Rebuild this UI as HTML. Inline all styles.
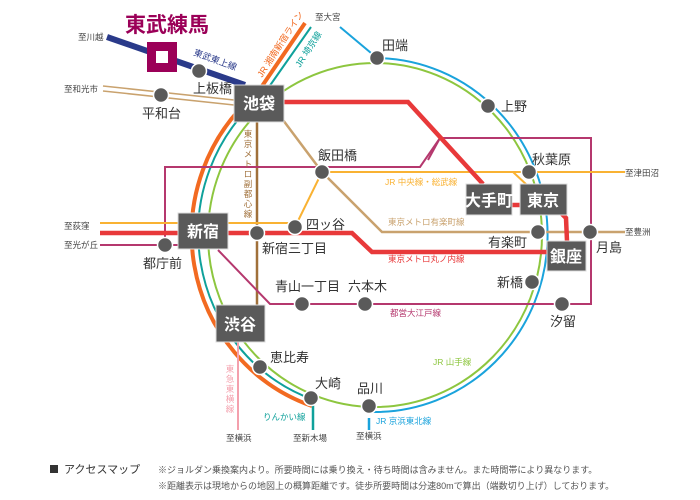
<!DOCTYPE html>
<html><head><meta charset="utf-8"><style>
html,body{margin:0;padding:0;background:#fff;}
svg{display:block;font-family:"Liberation Sans","Noto Sans CJK JP",sans-serif;}
.st{font-size:13px;fill:#333;}
.sm{font-size:8.5px;fill:#444;}
.bx{fill:#5a5a5a;stroke:#ddd;stroke-width:1;}
.bt{font-size:16px;fill:#fff;font-weight:bold;}
</style></head><body>
<svg width="700" height="500" viewBox="0 0 700 500">
<ellipse cx="375" cy="235" rx="167" ry="172" fill="none" stroke="#8dc63f" stroke-width="2"/>
<path d="M340 27 L377 58 A173 177 0 1 1 372 412" fill="none" stroke="#1aa3dc" stroke-width="2"/>
<line x1="369" y1="418" x2="369" y2="430" stroke="#1aa3dc" stroke-width="2.5"/>
<path d="M305 23 L258 92 A178 182 0 0 0 312 406" fill="none" stroke="#f26a21" stroke-width="4"/>
<path d="M311 27 L264 94 A173 177 0 0 0 314 400" fill="none" stroke="#0fa19b" stroke-width="2"/>
<line x1="313" y1="405" x2="313" y2="430" stroke="#0fa19b" stroke-width="2.5"/>
<line x1="238" y1="340" x2="238" y2="430" stroke="#f4a0ad" stroke-width="2"/>
<line x1="107" y1="37" x2="245" y2="85" stroke="#2a3a8a" stroke-width="6"/>
<g fill="none" stroke="#c9a26e" stroke-width="1.5">
<polyline points="103,86 234,100"/>
<polyline points="103,91 234,105"/>
</g>
<polyline points="283,120 322,172 382,232 625,232" fill="none" stroke="#c9a26e" stroke-width="2.5"/>
<line x1="257" y1="120" x2="257" y2="306" stroke="#a0703a" stroke-width="2.5"/>
<g fill="none" stroke="#b5386e" stroke-width="2">
<polyline points="100,245 180,245"/>
<polyline points="165,245 165,167 420,167 440,138 591,138 591,304 270,304 218,250"/>
<line x1="440" y1="138" x2="428" y2="160"/>
</g>
<g fill="none" stroke="#f9b233" stroke-width="2">
<polyline points="100,223 295,223"/>
<polyline points="295,227 322,172 625,172"/>
<line x1="513" y1="172" x2="528" y2="186"/>
</g>
<g fill="none" stroke="#e8393a" stroke-width="4.5">
<polyline points="283,102 408,102 483,184"/>
<line x1="512" y1="205" x2="520" y2="205"/>
<polyline points="560,212 566,218 567,241"/>
<polyline points="100,233 352,233 372,252 548,252"/>
</g>
<g fill="#5a5a5a" stroke="#fff" stroke-width="1.5">
<circle cx="199" cy="71" r="7.5"/>
<circle cx="161" cy="95" r="7.5"/>
<circle cx="377" cy="58" r="7.5"/>
<circle cx="488" cy="106" r="7.5"/>
<circle cx="529" cy="172" r="7.5"/>
<circle cx="538" cy="232" r="7.5"/>
<circle cx="590" cy="232" r="7.5"/>
<circle cx="532" cy="282" r="7.5"/>
<circle cx="562" cy="304" r="7.5"/>
<circle cx="369" cy="406" r="7.5"/>
<circle cx="311" cy="398" r="7.5"/>
<circle cx="260" cy="367" r="7.5"/>
<circle cx="165" cy="245" r="7.5"/>
<circle cx="257" cy="233" r="7.5"/>
<circle cx="295" cy="227" r="7.5"/>
<circle cx="302" cy="304" r="7.5"/>
<circle cx="365" cy="304" r="7.5"/>
<circle cx="322" cy="172" r="7.5"/>
</g>
<rect x="147" y="42" width="30" height="30" fill="#9b0058"/>
<rect x="156" y="51" width="12" height="12" fill="#fff"/>
<text x="125" y="32" font-size="21" font-weight="bold" fill="#9b0058">東武練馬</text>
<rect class="bx" x="234" y="85" width="50" height="37"/><text class="bt" x="259" y="109" text-anchor="middle">池袋</text>
<rect class="bx" x="178" y="213" width="50" height="36"/><text class="bt" x="203" y="237" text-anchor="middle">新宿</text>
<rect class="bx" x="216" y="305" width="49" height="37"/><text class="bt" x="240" y="330" text-anchor="middle">渋谷</text>
<rect class="bx" x="466" y="184" width="46" height="31"/><text class="bt" x="489" y="206" text-anchor="middle">大手町</text>
<rect class="bx" x="520" y="184" width="47" height="31"/><text class="bt" x="543" y="206" text-anchor="middle">東京</text>
<rect class="bx" x="547" y="241" width="39" height="30"/><text class="bt" x="566" y="262" text-anchor="middle">銀座</text>
<text class="st" x="193" y="93">上板橋</text>
<text class="st" x="142" y="118">平和台</text>
<text class="st" x="382" y="50">田端</text>
<text class="st" x="501" y="111">上野</text>
<text class="st" x="532" y="164">秋葉原</text>
<text class="st" x="488" y="247">有楽町</text>
<text class="st" x="596" y="252">月島</text>
<text class="st" x="497" y="287">新橋</text>
<text class="st" x="550" y="326">汐留</text>
<text class="st" x="357" y="393">品川</text>
<text class="st" x="315" y="388">大崎</text>
<text class="st" x="270" y="362">恵比寿</text>
<text class="st" x="143" y="268">都庁前</text>
<text class="st" x="262" y="253">新宿三丁目</text>
<text class="st" x="306" y="229">四ッ谷</text>
<text class="st" x="275" y="291">青山一丁目</text>
<text class="st" x="348" y="291">六本木</text>
<text class="st" x="318" y="160">飯田橋</text>
<text class="sm" x="78" y="40">至川越</text>
<text class="sm" x="64" y="92">至和光市</text>
<text class="sm" x="315" y="20">至大宮</text>
<text class="sm" x="625" y="176">至津田沼</text>
<text class="sm" x="625" y="235">至豊洲</text>
<text class="sm" x="64" y="229">至荻窪</text>
<text class="sm" x="64" y="248">至光が丘</text>
<text class="sm" x="226" y="441">至横浜</text>
<text class="sm" x="293" y="441">至新木場</text>
<text class="sm" x="356" y="439">至横浜</text>
<text font-size="9" fill="#2a3a8a" transform="translate(193,55) rotate(20)">東武東上線</text>
<text font-size="9" fill="#f26a21" transform="translate(262,78) rotate(-57)">JR 湘南新宿ライン</text>
<text font-size="9" fill="#0fa19b" transform="translate(300,68) rotate(-57)">JR 埼京線</text>
<g font-size="8.5" fill="#a0703a" text-anchor="middle">
<text x="248" y="137">東</text><text x="248" y="147">京</text><text x="248" y="157">メ</text><text x="248" y="167">ト</text><text x="248" y="177">ロ</text><text x="248" y="187">副</text><text x="248" y="197">都</text><text x="248" y="207">心</text><text x="248" y="217">線</text>
</g>
<g font-size="8.5" fill="#f4a0ad" text-anchor="middle">
<text x="230" y="372">東</text><text x="230" y="382">急</text><text x="230" y="392">東</text><text x="230" y="402">横</text><text x="230" y="412">線</text>
</g>
<text font-size="8.5" fill="#f9b233" x="385" y="185">JR 中央線・総武線</text>
<text font-size="8.5" fill="#c9a26e" x="388" y="225">東京メトロ有楽町線</text>
<text font-size="8.5" fill="#e8393a" x="388" y="262">東京メトロ丸ノ内線</text>
<text font-size="8.5" fill="#b5386e" x="390" y="316">都営大江戸線</text>
<text font-size="8.5" fill="#8dc63f" x="433" y="365">JR 山手線</text>
<text font-size="8.5" fill="#1aa3dc" x="376" y="424">JR 京浜東北線</text>
<text font-size="8.5" fill="#0fa19b" x="263" y="420">りんかい線</text>
<rect x="50" y="465" width="8" height="8" fill="#333"/>
<text x="64" y="473" font-size="11" fill="#333">アクセスマップ</text>
<text x="158" y="473" font-size="9" fill="#555">※ジョルダン乗換案内より。所要時間には乗り換え・待ち時間は含みません。また時間帯により異なります。</text>
<text x="158" y="489" font-size="9" fill="#555">※距離表示は現地からの地図上の概算距離です。徒歩所要時間は分速80mで算出（端数切り上げ）しております。</text>
</svg>
</body></html>
